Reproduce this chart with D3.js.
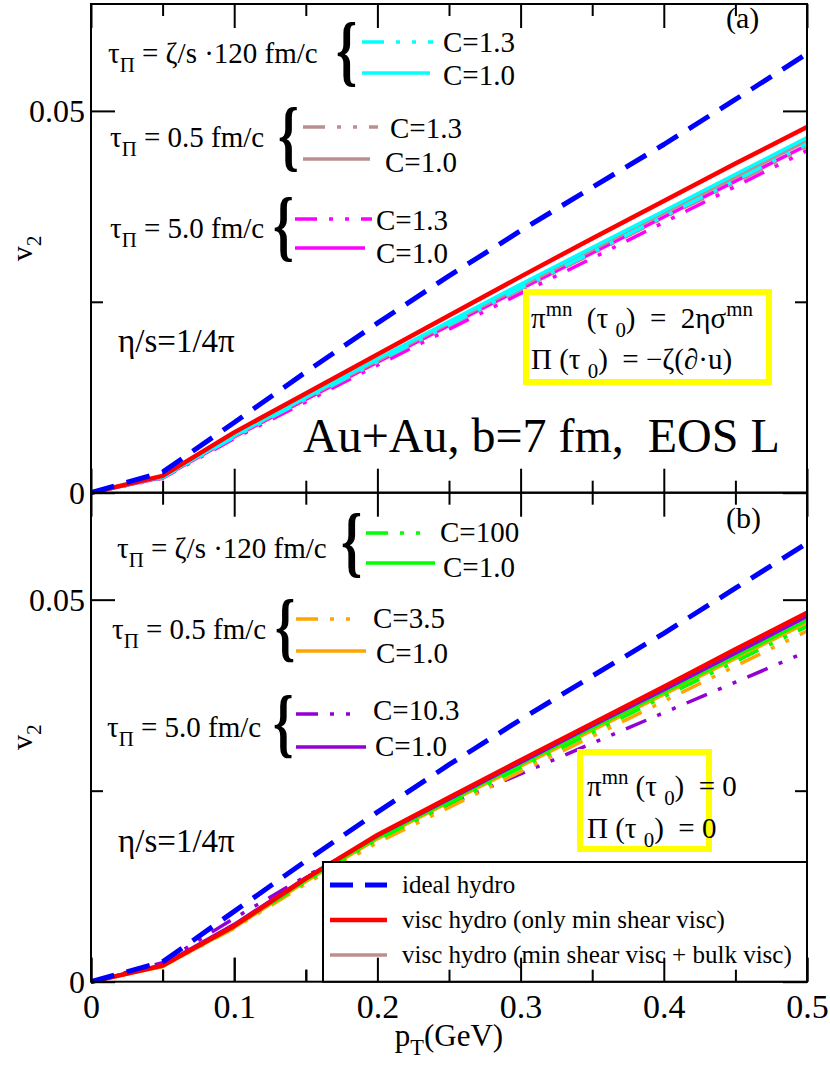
<!DOCTYPE html>
<html><head><meta charset="utf-8">
<script src="https://cdn.jsdelivr.net/npm/d3@7"></script>
<style>body{margin:0;background:#fff}svg{display:block}text{font-family:"Liberation Serif","Times New Roman",serif;fill:#000;white-space:pre}</style>
</head><body>
<svg id="c" width="830" height="1066"></svg>
<script>
// ---------------- data ----------------
const pT = [0, 0.05, 0.1, 0.15, 0.2, 0.25, 0.3, 0.35, 0.4, 0.45, 0.5];
const xTicksMajor = [0, 0.1, 0.2, 0.3, 0.4, 0.5];
const xTicksMinor = [0.05, 0.15, 0.25, 0.35, 0.45];
const xTickLabels = ["0", "0.1", "0.2", "0.3", "0.4", "0.5"];
const yTicksMajor = [0, 0.05];
const yTicksMinor = [0.025];
const yTickLabels = ["0", "0.05"];

// panel (a): initial pi = 2 eta sigma, Pi = -zeta (d.u)
const idealA        = [0, 0.0027, 0.0092, 0.0158, 0.0222, 0.0284, 0.0343, 0.0400, 0.0456, 0.0515, 0.0575];
const redA          = [0, 0.0022, 0.0079, 0.0130, 0.0181, 0.0232, 0.0283, 0.0333, 0.0382, 0.0431, 0.0479];
const cyanSolidA    = [0, 0.0021, 0.0075, 0.0125, 0.0175, 0.0224, 0.0273, 0.0321, 0.0369, 0.0417, 0.0465];
const cyanDashA     = [0, 0.0020, 0.0073, 0.0123, 0.0172, 0.0220, 0.0268, 0.0315, 0.0362, 0.0409, 0.0457];
const brownSolidA   = [0, 0.0021, 0.0074, 0.0124, 0.0173, 0.0222, 0.0270, 0.0318, 0.0366, 0.0413, 0.0461];
const brownDashA    = [0, 0.0020, 0.0073, 0.0122, 0.0171, 0.0219, 0.0266, 0.0313, 0.0360, 0.0406, 0.0453];
const magentaSolidA = [0, 0.0020, 0.0073, 0.0122, 0.0171, 0.0219, 0.0267, 0.0314, 0.0361, 0.0408, 0.0455];
const magentaDashA  = [0, 0.0019, 0.0071, 0.0119, 0.0167, 0.0214, 0.0261, 0.0307, 0.0354, 0.0401, 0.0448];

// panel (b): initial pi = 0, Pi = 0
const idealB        = [0, 0.0026, 0.0092, 0.0158, 0.0222, 0.0284, 0.0343, 0.0400, 0.0456, 0.0515, 0.0574];
const redB          = [0, 0.0021, 0.0073, 0.0135, 0.0192, 0.0241, 0.0290, 0.0338, 0.0386, 0.0435, 0.0483];
const greenSolidB   = [0, 0.0021, 0.0073, 0.0133, 0.0189, 0.0237, 0.0285, 0.0332, 0.0379, 0.0426, 0.0473];
const greenDashB    = [0, 0.0021, 0.0072, 0.0131, 0.0186, 0.0233, 0.0280, 0.0326, 0.0373, 0.0419, 0.0465];
const orangeSolidB  = [0, 0.0020, 0.0071, 0.0131, 0.0187, 0.0235, 0.0282, 0.0329, 0.0376, 0.0423, 0.0470];
const orangeDashB   = [0, 0.0020, 0.0070, 0.0128, 0.0182, 0.0228, 0.0275, 0.0321, 0.0367, 0.0413, 0.0459];
const purpleSolidB  = [0, 0.0022, 0.0075, 0.0136, 0.0191, 0.0239, 0.0287, 0.0335, 0.0382, 0.0430, 0.0478];
const purpleDashB   = [0, 0.0025, 0.0083, 0.0138, 0.0188, 0.0232, 0.0272, 0.0312, 0.0352, 0.0392, 0.0432];

// ---------------- layout ----------------
const svg = d3.select("#c");
const X0 = 91, X1 = 807;
const x = d3.scaleLinear().domain([0, 0.5]).range([X0, X1]);
const yA = d3.scaleLinear().domain([0, 0.064]).range([492.7, 4]);
const yB = d3.scaleLinear().domain([0, 0.064]).range([981.7, 492.7]);

const C = {blue:"#0000ff", red:"#ff0000", cyan:"#00ffff", brown:"#bc8f8f", magenta:"#ff00ff",
           green:"#00ff00", orange:"#ffa500", purple:"#9400d3", yellow:"#ffff00"};
const DASH = "24,13";
const DASHDOT = "22,12,4,12,4,12";

function rich(parent, xx, yy, fs, parts, opts={}) {
  const t = parent.append("text").attr("x", xx).attr("y", yy).attr("font-size", fs);
  if (opts.anchor) t.attr("text-anchor", opts.anchor);
  if (opts.transform) t.attr("transform", opts.transform);
  let shift = 0;
  parts.forEach(p => {
    const s = typeof p === "string" ? p : p[0];
    const k = typeof p === "string" ? "n" : p[1];
    const target = k === "sub" ? 0.3*fs : k === "sup" ? -0.42*fs : 0;
    const ts = t.append("tspan").attr("dy", target - shift).text(s);
    if (k !== "n") ts.attr("font-size", fs*0.72);
    shift = target;
  });
  return t;
}
function brace(parent, xx, yTop, yBot) {
  const h = yBot - yTop;
  const fs = h / 0.86;
  parent.append("text").text("{").attr("font-size", fs).attr("font-weight", "bold")
    .attr("transform", `translate(${xx},${yBot - 0.2*fs}) scale(0.68,1)`);
}

function panel(y, series) {
  const g = svg.append("g");
  const line = d3.line().x((d,i)=>x(pT[i])).y(d=>y(d));
  series.forEach(s => {
    g.append("path").datum(s.v).attr("d", line).attr("fill","none")
      .attr("stroke", s.c).attr("stroke-width", s.w)
      .attr("stroke-dasharray", s.dash || null).attr("stroke-linejoin","round");
  });
  const [ya0, ya1] = y.range();
  const mk = (axisFn, sc, vals, size, tr) => {
    const a = g.append("g").attr("transform", tr)
      .call(axisFn(sc).tickValues(vals).tickSize(size).tickFormat(""));
    a.select(".domain").remove();
    a.selectAll("line").attr("stroke","#000").attr("stroke-width",2);
    return a;
  };
  mk(d3.axisBottom, x, xTicksMajor, -24, `translate(0,${ya0})`);
  mk(d3.axisBottom, x, xTicksMinor, -12, `translate(0,${ya0})`);
  mk(d3.axisTop, x, xTicksMajor, -24, `translate(0,${ya1})`);
  mk(d3.axisTop, x, xTicksMinor, -12, `translate(0,${ya1})`);
  mk(d3.axisLeft, y, yTicksMajor, -24, `translate(${X0},0)`);
  mk(d3.axisLeft, y, yTicksMinor, -12, `translate(${X0},0)`);
  mk(d3.axisRight, y, yTicksMajor, -24, `translate(${X1},0)`);
  mk(d3.axisRight, y, yTicksMinor, -12, `translate(${X1},0)`);
  const yl = g.append("g").attr("transform", `translate(${X0},0)`)
    .call(d3.axisLeft(y).tickValues(yTicksMajor).tickSize(0).tickPadding(6)
      .tickFormat((d,i)=>yTickLabels[i]));
  yl.select(".domain").remove();
  yl.selectAll("text").attr("font-size", 32).attr("font-family", '"Liberation Serif",serif').attr("dy","0.34em");
  g.append("rect").attr("x", X0).attr("y", ya1).attr("width", X1-X0).attr("height", ya0-ya1)
    .attr("fill","none").attr("stroke","#000").attr("stroke-width",2);
  rich(g, 0, 0, 30, ["v", ["2","sub"]], {transform:`translate(32,${(ya0+ya1)/2}) rotate(-90)`, anchor:"middle"});
  return g;
}

// ---------- panel a ----------
panel(yA, [
  {v: magentaDashA, c: C.magenta, w: 3.5, dash: DASHDOT},
  {v: magentaSolidA, c: C.magenta, w: 3.5},
  {v: brownDashA, c: C.brown, w: 3.5, dash: DASHDOT},
  {v: brownSolidA, c: C.brown, w: 3.5},
  {v: cyanDashA, c: C.cyan, w: 3.5, dash: DASHDOT},
  {v: cyanSolidA, c: C.cyan, w: 3.5},
  {v: redA, c: C.red, w: 4.5},
  {v: idealA, c: C.blue, w: 5, dash: DASH}
]);

// ---------- panel b ----------
panel(yB, [
  {v: purpleDashB, c: C.purple, w: 3.5, dash: DASHDOT},
  {v: orangeDashB, c: C.orange, w: 3.5, dash: DASHDOT},
  {v: orangeSolidB, c: C.orange, w: 3.5},
  {v: greenDashB, c: C.green, w: 3.5, dash: DASHDOT},
  {v: greenSolidB, c: C.green, w: 3.5},
  {v: purpleSolidB, c: C.purple, w: 3.5},
  {v: redB, c: C.red, w: 4.5},
  {v: idealB, c: C.blue, w: 5, dash: DASH}
]);

// x tick labels (bottom only)
const xl = svg.append("g").attr("transform", `translate(0,${yB.range()[0]})`)
  .call(d3.axisBottom(x).tickValues(xTicksMajor).tickSize(0).tickPadding(12)
    .tickFormat((d,i)=>xTickLabels[i]));
xl.select(".domain").remove();
xl.selectAll("text").attr("font-size", 34).attr("font-family", '"Liberation Serif",serif');
rich(svg, 449, 1046, 31, ["p", ["T","sub"], "(GeV)"], {anchor:"middle"});

// ---------- annotation legends ----------
function sampleLine(xa, xb, yy, col, dash) {
  svg.append("line").attr("x1",xa).attr("x2",xb).attr("y1",yy).attr("y2",yy)
    .attr("stroke",col).attr("stroke-width",3.5).attr("stroke-dasharray",dash||null);
}
const FS = 29;
// panel a
rich(svg, 108, 63, FS, ["τ", ["Π","sub"], " = ζ/s ·120 fm/c"]);
brace(svg, 336, 24, 92);
sampleLine(362, 433, 42, C.cyan, DASHDOT); sampleLine(362, 430, 73, C.cyan);
rich(svg, 443, 52, FS, ["C=1.3"]); rich(svg, 443, 85, FS, ["C=1.0"]);

rich(svg, 110, 147, FS, ["τ", ["Π","sub"], " = 0.5 fm/c"]);
brace(svg, 278, 110, 177);
sampleLine(303, 378, 127, C.brown, DASHDOT); sampleLine(303, 370, 159, C.brown);
rich(svg, 390, 138, FS, ["C=1.3"]); rich(svg, 385, 172, FS, ["C=1.0"]);

rich(svg, 110, 238, FS, ["τ", ["Π","sub"], " = 5.0 fm/c"]);
brace(svg, 273, 200, 267);
sampleLine(295, 372, 219, C.magenta, DASHDOT); sampleLine(295, 365, 248, C.magenta);
rich(svg, 376, 230, FS, ["C=1.3"]); rich(svg, 376, 263, FS, ["C=1.0"]);

rich(svg, 118, 352, 33, ["η/s=1/4π"]);
rich(svg, 726, 28, 30, ["(a)"]);
rich(svg, 303, 452, 48, ["Au+Au, b=7 fm,  EOS L"]);

svg.append("rect").attr("x",526).attr("y",292).attr("width",243).attr("height",90)
  .attr("fill","#fff").attr("stroke",C.yellow).attr("stroke-width",6);
rich(svg, 531, 328, 29, ["π", ["mn","sup"], "  (τ ", ["0","sub"], ")  =  2ησ", ["mn","sup"]]);
rich(svg, 531, 369, 29, ["Π (τ ", ["0","sub"], ")  = −ζ(∂·u)"]);

// panel b
rich(svg, 117, 558, FS, ["τ", ["Π","sub"], " = ζ/s ·120 fm/c"]);
brace(svg, 341, 515, 583);
sampleLine(366, 430, 533, C.green, DASHDOT); sampleLine(366, 435, 563, C.green);
rich(svg, 440, 542, FS, ["C=100"]); rich(svg, 443, 577, FS, ["C=1.0"]);

rich(svg, 112, 639, FS, ["τ", ["Π","sub"], " = 0.5 fm/c"]);
brace(svg, 275, 602, 667);
sampleLine(296, 360, 619, C.orange, DASHDOT); sampleLine(296, 366, 651, C.orange);
rich(svg, 373, 628, FS, ["C=3.5"]); rich(svg, 376, 663, FS, ["C=1.0"]);

rich(svg, 107, 737, FS, ["τ", ["Π","sub"], " = 5.0 fm/c"]);
brace(svg, 273, 697, 763);
sampleLine(296, 362, 714, C.purple, DASHDOT); sampleLine(296, 366, 747, C.purple);
rich(svg, 373, 720, FS, ["C=10.3"]); rich(svg, 375, 756, FS, ["C=1.0"]);

rich(svg, 118, 852, 33, ["η/s=1/4π"]);
rich(svg, 726, 528, 30, ["(b)"]);

svg.append("rect").attr("x",580).attr("y",752).attr("width",129).attr("height",97)
  .attr("fill","#fff").attr("stroke",C.yellow).attr("stroke-width",6);
rich(svg, 587, 796, 29, ["π", ["mn","sup"], " (τ ", ["0","sub"], ")  = 0"]);
rich(svg, 587, 838, 29, ["Π (τ ", ["0","sub"], ")  = 0"]);

// bottom legend box
const lg = svg.append("g");
lg.append("rect").attr("x",323).attr("y",862).attr("width",X1-323).attr("height",981.7-862)
  .attr("fill","#fff").attr("stroke","#000").attr("stroke-width",2);
const legItems = [
  {label:"ideal hydro", c:C.blue, dash:DASH, w:5},
  {label:"visc hydro (only min shear visc)", c:C.red, w:4.5},
  {label:"visc hydro (min shear visc + bulk visc)", c:C.brown, w:3.5}
];
legItems.forEach((d,i)=>{
  const yy = 885 + i*35;
  lg.append("line").attr("x1",330).attr("x2",387).attr("y1",yy).attr("y2",yy)
    .attr("stroke",d.c).attr("stroke-width",d.w).attr("stroke-dasharray",d.dash?"23,12":null);
  rich(lg, 402, yy+8, 25, [d.label]);
});
// redraw bottom x ticks over legend box
const tb = svg.append("g").attr("transform", `translate(0,${yB.range()[0]})`)
  .call(d3.axisBottom(x).tickValues(xTicksMajor.concat(xTicksMinor)).tickSize(-12).tickFormat(""));
tb.select(".domain").remove();
tb.selectAll("line").attr("stroke","#000").attr("stroke-width",2)
  .attr("y2", d => xTicksMajor.includes(d) ? -24 : -12);
</script>
</body></html>
